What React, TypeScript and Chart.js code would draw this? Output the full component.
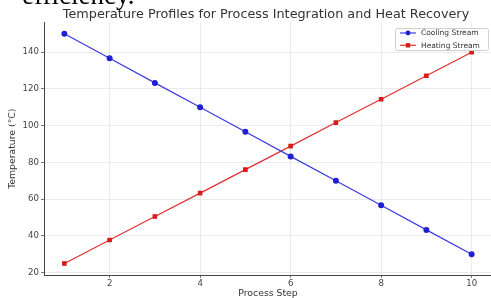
import React, { useEffect, useRef } from "react";
import { Chart, registerables } from "chart.js";

Chart.register(...registerables);

const processSteps = [1, 2, 3, 4, 5, 6, 7, 8, 9, 10];
const coolingStream = [150, 136.7, 123.3, 110, 96.7, 83.3, 70, 56.7, 43.3, 30];
const heatingStream = [25, 37.8, 50.6, 63.3, 76.1, 88.9, 101.7, 114.4, 127.2, 140];
const xTickValues = [2, 4, 6, 8, 10];
const yTickValues = [20, 40, 60, 80, 100, 120, 140];
const chartTitle = "Temperature Profiles for Process Integration and Heat Recovery";
const xAxisTitle = "Process Step";
const yAxisTitle = "Temperature (°C)";
const seriesLabels = ["Cooling Stream", "Heating Stream"];
const headerText = "efficiency.";

const FONT = "'DejaVu Sans', sans-serif";

const titleCenterPlugin = {
  id: "titleCenter",
  afterLayout(chart: any) {
    const tb = chart.titleBlock;
    if (tb) {
      tb.left = chart.chartArea.left - 2;
      tb.right = chart.chartArea.right - 2;
    }
  },
};

const legendPlugin = {
  id: "boxLegend",
  afterDraw(chart: any) {
    const ctx = chart.ctx;
    const x = 395;
    const y = 28;
    const w = 93;
    const h = 22;
    ctx.save();
    ctx.fillStyle = "rgba(255,255,255,0.85)";
    ctx.strokeStyle = "#d0d0d0";
    ctx.lineWidth = 1;
    ctx.beginPath();
    ctx.roundRect(x + 0.5, y + 0.5, w, h, 2);
    ctx.fill();
    ctx.stroke();
    chart.data.datasets.forEach((ds: any, i: number) => {
      const cy = y + 5 + i * 12.3;
      ctx.strokeStyle = ds.borderColor;
      ctx.lineWidth = 1.2;
      ctx.beginPath();
      ctx.moveTo(x + 5, cy);
      ctx.lineTo(x + 21, cy);
      ctx.stroke();
      ctx.fillStyle = ds.pointBackgroundColor;
      if (ds.pointStyle === "rect") {
        ctx.fillRect(x + 13 - 2.2, cy - 2.2, 4.4, 4.4);
      } else {
        ctx.beginPath();
        ctx.arc(x + 13, cy, 2.4, 0, Math.PI * 2);
        ctx.fill();
      }
      ctx.fillStyle = "#333";
      ctx.font = `7.5px ${FONT}`;
      ctx.textBaseline = "middle";
      ctx.textAlign = "left";
      ctx.fillText(ds.label, x + 26, cy + 0.5);
    });
    ctx.restore();
  },
};

export default function App() {
  const ref = useRef<HTMLCanvasElement | null>(null);

  useEffect(() => {
    if (!ref.current) return;
    const chart = new Chart(ref.current, {
      type: "line",
      data: {
        datasets: [
          {
            label: seriesLabels[0],
            data: processSteps.map((s, i) => ({ x: s, y: coolingStream[i] })),
            borderColor: "#3b3be2",
            backgroundColor: "#1f1fd4",
            pointBackgroundColor: "#1f1fd4",
            pointBorderColor: "#1f1fd4",
            pointStyle: "circle",
            pointRadius: 2.4,
            borderWidth: 1.2,
            tension: 0,
          },
          {
            label: seriesLabels[1],
            data: processSteps.map((s, i) => ({ x: s, y: heatingStream[i] })),
            borderColor: "#e23030",
            backgroundColor: "#d81b1b",
            pointBackgroundColor: "#d81b1b",
            pointBorderColor: "#d81b1b",
            pointStyle: "rect",
            pointRadius: 2.4,
            borderWidth: 1.2,
            tension: 0,
          },
        ],
      },
      options: {
        animation: false,
        responsive: false,
        devicePixelRatio: 1,
        layout: { padding: { left: 0, right: 8, top: 0, bottom: 0 } },
        plugins: {
          legend: { display: false },
          tooltip: { enabled: false },
          title: {
            display: true,
            text: chartTitle,
            color: "#333",
            font: { family: FONT, size: 12.8, weight: "normal", lineHeight: 1.2 },
            padding: { top: 7, bottom: 0 },
          },
        },
        scales: {
          x: {
            type: "linear",
            min: 0.55,
            max: 10.45,
            afterBuildTicks: (s: any) => {
              s.ticks = xTickValues.map((v) => ({ value: v }));
            },
            afterFit: (s: any) => {
              s.height = 23;
            },
            grid: { color: "#e6e6e6", lineWidth: 0.8, tickLength: 3, tickColor: "#555", tickWidth: 0.8 },
            border: { display: true, color: "#444", width: 1 },
            ticks: { color: "#444", font: { family: FONT, size: 8.6 }, padding: 1, maxRotation: 0 },
            title: {
              display: true,
              text: xAxisTitle,
              color: "#333",
              font: { family: FONT, size: 9.3, lineHeight: 1 },
              padding: { top: 0, bottom: 0 },
            },
          },
          y: {
            type: "linear",
            min: 18.75,
            max: 156.25,
            afterBuildTicks: (s: any) => {
              s.ticks = yTickValues.map((v) => ({ value: v }));
            },
            afterFit: (s: any) => {
              s.width = 44;
            },
            grid: { color: "#e6e6e6", lineWidth: 0.8, tickLength: 3, tickColor: "#555", tickWidth: 0.8 },
            border: { display: true, color: "#444", width: 1 },
            ticks: { color: "#444", font: { family: FONT, size: 8.6 }, padding: 2 },
            title: {
              display: true,
              text: yAxisTitle,
              color: "#333",
              font: { family: FONT, size: 9.3, lineHeight: 1.2 },
              padding: { top: 7.4, bottom: 0 },
            },
          },
        },
      },
      plugins: [titleCenterPlugin, legendPlugin],
    } as any);
    return () => chart.destroy();
  }, []);

  return (
    <div
      style={{
        position: "absolute",
        left: 0,
        top: 0,
        width: 491,
        height: 298,
        overflow: "hidden",
        background: "#fff",
      }}
    >
      <canvas ref={ref} width={500} height={298} style={{ position: "absolute", left: 0, top: 0, width: 500, height: 298 }} />
      <div
        style={{
          position: "absolute",
          left: 22,
          top: -17.6,
          fontFamily: "'Liberation Serif', 'Times New Roman', serif",
          fontSize: 27,
          lineHeight: "27px",
          color: "#000",
          whiteSpace: "nowrap",
        }}
      >
        {headerText}
      </div>
    </div>
  );
}
